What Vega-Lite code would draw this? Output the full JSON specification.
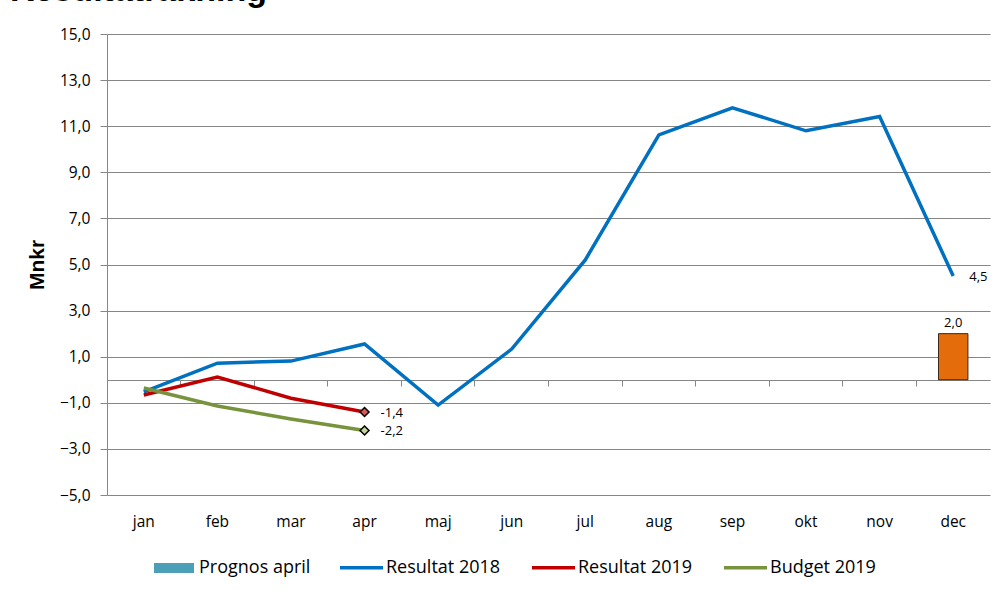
{
  "$schema": "https://vega.github.io/schema/vega-lite/v6.json",
  "width": 883,
  "height": 461,
  "autosize": "none",
  "padding": {"left": 107, "top": 34, "right": 8, "bottom": 95},
  "background": "white",
  "title": {"text": "Resultaträkning", "anchor": "start", "frame": "group", "dx": -97, "offset": -8, "baseline": "alphabetic", "fontSize": 34, "font": "Liberation Sans", "fontWeight": "bold", "color": "black"},
  "config": {"view": {"stroke": null}, "font": "Open Sans"},
  "datasets": {
    "series": [
      {"month": "jan", "serie": "Resultat 2018", "value": -0.53},
      {"month": "feb", "serie": "Resultat 2018", "value": 0.72},
      {"month": "mar", "serie": "Resultat 2018", "value": 0.81},
      {"month": "apr", "serie": "Resultat 2018", "value": 1.55},
      {"month": "maj", "serie": "Resultat 2018", "value": -1.1},
      {"month": "jun", "serie": "Resultat 2018", "value": 1.33},
      {"month": "jul", "serie": "Resultat 2018", "value": 5.2},
      {"month": "aug", "serie": "Resultat 2018", "value": 10.62},
      {"month": "sep", "serie": "Resultat 2018", "value": 11.8},
      {"month": "okt", "serie": "Resultat 2018", "value": 10.8},
      {"month": "nov", "serie": "Resultat 2018", "value": 11.42},
      {"month": "dec", "serie": "Resultat 2018", "value": 4.5, "label": "4,5"},
      {"month": "jan", "serie": "Resultat 2019", "value": -0.66},
      {"month": "feb", "serie": "Resultat 2019", "value": 0.12},
      {"month": "mar", "serie": "Resultat 2019", "value": -0.8},
      {"month": "apr", "serie": "Resultat 2019", "value": -1.4, "label": "-1,4"},
      {"month": "jan", "serie": "Budget 2019", "value": -0.36},
      {"month": "feb", "serie": "Budget 2019", "value": -1.14},
      {"month": "mar", "serie": "Budget 2019", "value": -1.7},
      {"month": "apr", "serie": "Budget 2019", "value": -2.2, "label": "-2,2"}
    ],
    "prognos": [
      {"month": "dec", "serie": "Prognos april", "value": 2.0, "label": "2,0"}
    ]
  },
  "resolve": {"axis": {"x": "independent"}},
  "layer": [
    {
      "data": {"name": "prognos"},
      "mark": {"type": "bar", "width": {"band": 0.4}},
      "encoding": {
        "x": {"field": "month", "type": "nominal", "sort": ["jan","feb","mar","apr","maj","jun","jul","aug","sep","okt","nov","dec"],
          "scale": {"domain": ["jan","feb","mar","apr","maj","jun","jul","aug","sep","okt","nov","dec"], "paddingInner": 0, "paddingOuter": 0},
          "axis": {"title": null, "orient": "bottom", "domain": false, "ticks": false, "labelAngle": 0, "labelPadding": 19, "labelFontSize": 15.5, "labelColor": "black", "labelFont": "Open Sans", "grid": false}},
        "y": {"field": "value", "type": "quantitative",
          "scale": {"domain": [-5, 15], "nice": false, "zero": false},
          "axis": {"values": [-5,-3,-1,1,3,5,7,9,11,13,15], "labelExpr": "replace(format(datum.value,'.1f'),'.',',')",
            "gridColor": "#868686", "domainColor": "#868686", "tickColor": "#868686", "tickSize": 7, "labelPadding": 10,
            "labelFontSize": 15.5, "labelColor": "black", "labelFont": "Open Sans",
            "title": "Mnkr", "titleFontSize": 21, "titleFont": "Liberation Sans", "titleFontWeight": "bold", "titleColor": "black", "titleX": -70, "titleBaseline": "middle"}},
        "fill": {"datum": "Prognos april", "type": "nominal",
          "scale": {"domain": ["Prognos april"], "range": ["#4BA0B8"]},
          "legend": {"orient": "none", "legendX": 47, "legendY": 514, "title": null, "symbolType": "M-1,-0.25H1V0.25H-1Z", "symbolSize": 1600, "symbolStrokeWidth": 0,
            "labelOffset": 5, "labelFontSize": 18, "labelFont": "Open Sans", "labelColor": "black"}}
      }
    },
    {
      "data": {"name": "prognos"},
      "mark": {"type": "bar", "fill": "#E46C0A", "stroke": "#3a2a1a", "strokeWidth": 1, "width": {"band": 0.4}},
      "encoding": {
        "x": {"field": "month", "type": "nominal", "sort": ["jan","feb","mar","apr","maj","jun","jul","aug","sep","okt","nov","dec"], "axis": null},
        "y": {"field": "value", "type": "quantitative"}
      }
    },
    {
      "data": {"name": "prognos"},
      "mark": {"type": "text", "dy": -11, "fontSize": 13, "font": "Open Sans", "color": "black"},
      "encoding": {
        "x": {"field": "month", "type": "nominal", "sort": ["jan","feb","mar","apr","maj","jun","jul","aug","sep","okt","nov","dec"], "axis": null},
        "y": {"field": "value", "type": "quantitative"},
        "text": {"field": "label"}
      }
    },
    {
      "data": {"name": "series"},
      "mark": {"type": "line", "strokeWidth": 3.5},
      "encoding": {
        "x": {"field": "month", "type": "nominal", "sort": ["jan","feb","mar","apr","maj","jun","jul","aug","sep","okt","nov","dec"],
          "axis": {"title": null, "orient": "bottom", "labels": false, "offset": -115, "domainColor": "#868686", "tickColor": "#868686", "tickSize": 6, "bandPosition": 0, "grid": false}},
        "y": {"field": "value", "type": "quantitative"},
        "color": {"field": "serie", "type": "nominal",
          "scale": {"domain": ["Resultat 2018", "Resultat 2019", "Budget 2019"], "range": ["#0070C0", "#C00000", "#77933C"]},
          "legend": {"orient": "none", "legendX": 231, "legendY": 510, "direction": "horizontal", "title": null,
            "symbolType": "stroke", "symbolSize": 1850, "symbolStrokeWidth": 3.5, "labelOffset": 1, "columnPadding": 23,
            "labelFontSize": 18, "labelFont": "Open Sans", "labelColor": "black"}
        }
      }
    },
    {
      "data": {"name": "series"},
      "transform": [{"filter": "datum.label && datum.serie == 'Resultat 2019'"}],
      "mark": {"type": "point", "shape": "diamond", "filled": true, "size": 80, "fill": "#D65A5A", "stroke": "black", "strokeWidth": 1.5, "opacity": 1},
      "encoding": {
        "x": {"field": "month", "type": "nominal", "sort": ["jan","feb","mar","apr","maj","jun","jul","aug","sep","okt","nov","dec"], "axis": null},
        "y": {"field": "value", "type": "quantitative"}
      }
    },
    {
      "data": {"name": "series"},
      "transform": [{"filter": "datum.label && datum.serie == 'Budget 2019'"}],
      "mark": {"type": "point", "shape": "diamond", "filled": true, "size": 80, "fill": "#C3D69B", "stroke": "black", "strokeWidth": 1.5, "opacity": 1},
      "encoding": {
        "x": {"field": "month", "type": "nominal", "sort": ["jan","feb","mar","apr","maj","jun","jul","aug","sep","okt","nov","dec"], "axis": null},
        "y": {"field": "value", "type": "quantitative"}
      }
    },
    {
      "data": {"name": "series"},
      "transform": [{"filter": "datum.label"}],
      "mark": {"type": "text", "align": "left", "dx": 16, "dy": 1, "fontSize": 13, "font": "Open Sans", "color": "black"},
      "encoding": {
        "x": {"field": "month", "type": "nominal", "sort": ["jan","feb","mar","apr","maj","jun","jul","aug","sep","okt","nov","dec"], "axis": null},
        "y": {"field": "value", "type": "quantitative"},
        "text": {"field": "label"}
      }
    }
  ]
}
